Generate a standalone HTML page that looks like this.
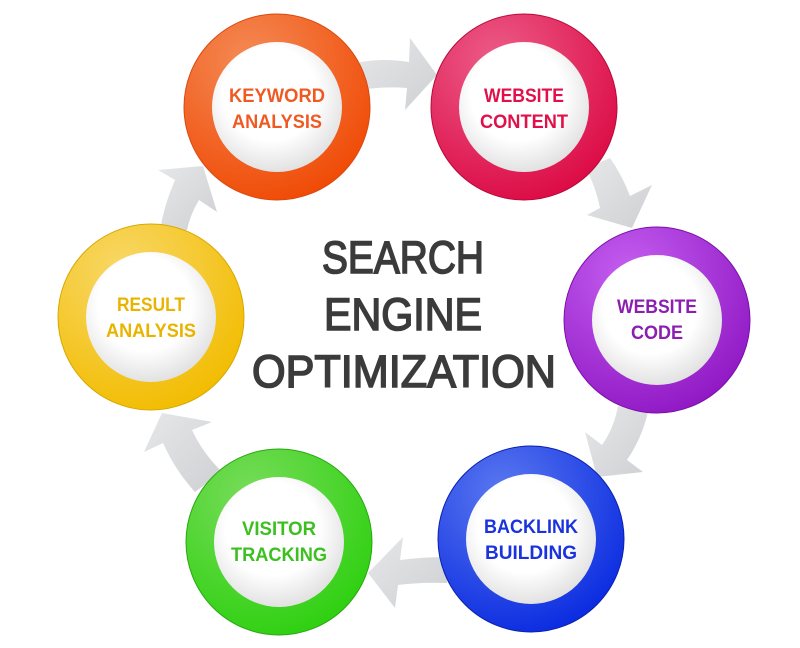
<!DOCTYPE html>
<html><head><meta charset="utf-8"><style>
html,body{margin:0;padding:0;background:#fff;width:800px;height:648px;overflow:hidden}
svg{display:block}
.l{font-family:"Liberation Sans",sans-serif;font-weight:bold;font-size:19px;text-anchor:middle}
.c{font-family:"Liberation Sans",sans-serif;font-size:45px;fill:#3b3b3b;text-anchor:middle;stroke:#3b3b3b;stroke-width:1.6}
</style></head><body>
<svg width="800" height="648" viewBox="0 0 800 648">
<defs>
<linearGradient id="ag" x1="0" y1="0" x2="1" y2="1"><stop offset="0" stop-color="#e6e7e9"/><stop offset="1" stop-color="#cfd0d3"/></linearGradient>
<radialGradient id="w" cx="0.45" cy="0.4" r="0.6"><stop offset="0.6" stop-color="#ffffff"/><stop offset="1" stop-color="#e2e2e2"/></radialGradient>
<radialGradient id="go" cx="0.35" cy="0.25" r="0.8"><stop offset="0" stop-color="#f48a55"/><stop offset="1" stop-color="#f04a05"/></radialGradient>
<radialGradient id="gp" cx="0.35" cy="0.25" r="0.8"><stop offset="0" stop-color="#ec5c88"/><stop offset="1" stop-color="#dc0a45"/></radialGradient>
<radialGradient id="gv" cx="0.35" cy="0.25" r="0.8"><stop offset="0" stop-color="#c45ef0"/><stop offset="1" stop-color="#9018c4"/></radialGradient>
<radialGradient id="gb" cx="0.35" cy="0.25" r="0.8"><stop offset="0" stop-color="#5a78f0"/><stop offset="1" stop-color="#0a2be0"/></radialGradient>
<radialGradient id="gg" cx="0.35" cy="0.25" r="0.8"><stop offset="0" stop-color="#78dc5a"/><stop offset="1" stop-color="#2ed010"/></radialGradient>
<radialGradient id="gy" cx="0.35" cy="0.25" r="0.8"><stop offset="0" stop-color="#f8d868"/><stop offset="1" stop-color="#f2bc00"/></radialGradient>
</defs>
<g fill="url(#ag)">
<path d="M360,62 Q385,58 409,62 L410,38 L437,75 L405,110 L407,88 Q385,86 360,90 Z"/>
<path d="M586,168 Q596,188 600,208 L587,215 L632,228 L652,185 L630,196 Q622,175 610,158 Z"/>
<path d="M618,406 Q614,428 602,445 L585,432 L597,477 L643,472 L627,460 Q642,438 648,412 Z"/>
<path d="M447,557 Q422,557 400,560 L403,537 L368,573 L395,608 L398,585 Q422,582 447,583 Z"/>
<path d="M222,472 Q202,452 192,430 L212,422 L162,413 L144,452 L163,443 Q175,470 195,492 Z"/>
<path d="M160,230 Q164,205 175,180 L158,170 L203,166 L217,212 L199,200 Q190,215 187,230 Z"/>
</g>
<g>
<circle cx="277" cy="107" r="93" fill="url(#go)" stroke="#d84a10" stroke-width="1"/>
<circle cx="277" cy="107" r="65" fill="url(#w)"/>
<circle cx="524" cy="107" r="93" fill="url(#gp)" stroke="#b80a3a" stroke-width="1"/>
<circle cx="524" cy="107" r="65" fill="url(#w)"/>
<circle cx="657" cy="320" r="93" fill="url(#gv)" stroke="#7a10a8" stroke-width="1"/>
<circle cx="657" cy="320" r="65" fill="url(#w)"/>
<circle cx="531" cy="539" r="93" fill="url(#gb)" stroke="#0a20b0" stroke-width="1"/>
<circle cx="531" cy="539" r="65" fill="url(#w)"/>
<circle cx="279" cy="542" r="93" fill="url(#gg)" stroke="#28a810" stroke-width="1"/>
<circle cx="279" cy="542" r="65" fill="url(#w)"/>
<circle cx="151" cy="317" r="93" fill="url(#gy)" stroke="#d8a800" stroke-width="1"/>
<circle cx="151" cy="317" r="65" fill="url(#w)"/>
</g>
<text class="l" fill="#f05a22" x="277" y="102" textLength="96" lengthAdjust="spacingAndGlyphs">KEYWORD</text>
<text class="l" fill="#f05a22" x="277" y="128" textLength="90" lengthAdjust="spacingAndGlyphs">ANALYSIS</text>
<text class="l" fill="#e0104a" x="524" y="102" textLength="80" lengthAdjust="spacingAndGlyphs">WEBSITE</text>
<text class="l" fill="#e0104a" x="524" y="128" textLength="88" lengthAdjust="spacingAndGlyphs">CONTENT</text>
<text class="l" fill="#8a1fb0" x="657" y="313" textLength="80" lengthAdjust="spacingAndGlyphs">WEBSITE</text>
<text class="l" fill="#8a1fb0" x="657" y="339" textLength="52" lengthAdjust="spacingAndGlyphs">CODE</text>
<text class="l" fill="#1a33dd" x="531" y="533" textLength="94" lengthAdjust="spacingAndGlyphs">BACKLINK</text>
<text class="l" fill="#1a33dd" x="531" y="559" textLength="92" lengthAdjust="spacingAndGlyphs">BUILDING</text>
<text class="l" fill="#3cc020" x="279" y="535" textLength="74" lengthAdjust="spacingAndGlyphs">VISITOR</text>
<text class="l" fill="#3cc020" x="279" y="561" textLength="96" lengthAdjust="spacingAndGlyphs">TRACKING</text>
<text class="l" fill="#e8b400" x="151" y="311" textLength="68" lengthAdjust="spacingAndGlyphs">RESULT</text>
<text class="l" fill="#e8b400" x="151" y="337" textLength="90" lengthAdjust="spacingAndGlyphs">ANALYSIS</text>
<text class="c" x="403" y="273" textLength="162" lengthAdjust="spacingAndGlyphs">SEARCH</text>
<text class="c" x="403" y="330" textLength="158" lengthAdjust="spacingAndGlyphs">ENGINE</text>
<text class="c" x="404" y="387" textLength="304" lengthAdjust="spacingAndGlyphs">OPTIMIZATION</text>
</svg>
</body></html>
